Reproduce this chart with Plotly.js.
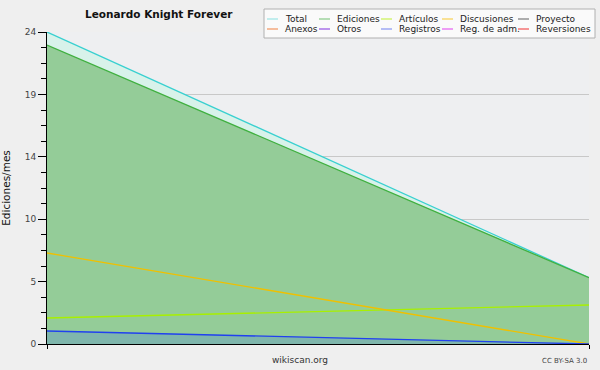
<!DOCTYPE html>
<html><head><meta charset="utf-8">
<script src="https://cdn.plot.ly/plotly-3.0.1.min.js"></script>
<style>html,body{margin:0;padding:0;background:#efefef}#c{width:600px;height:370px;outline:1px solid #b8b8b8;outline-offset:-1px}</style>
</head><body><div id="c"></div>
<script>
// Data
const months = [0, 1];
const total = [24, 5.1];
const ediciones = [23, 5.1];
const articulos = [2, 3];
const discusiones = [7, 0];
const registros = [1, 0];
const yTickVals = [0, 4.8, 9.6, 14.4, 19.2, 24];
const yTickText = ['0', '5', '10', '14', '19', '24'];
const legendNames = ['Total','Ediciones','Artículos','Discusiones','Proyecto','Anexos','Otros','Registros','Reg. de adm.','Reversiones'];
const legendColors = ['#88e0e0','#70c070','#c0f030','#f8c830','#606060','#f08040','#8030e0','#7080f0','#e040f0','#f03030'];

const F = 'DejaVu Sans, sans-serif';
const L = 47, R = 589, T = 32, B = 344;
const px = x => (x - L) / (R - L);
const py = y => (B - y) / (B - T);

const traces = [
  {x: months, y: total, mode: 'lines', fill: 'tozeroy', fillcolor: '#d8f2ea', line: {color: '#38d0d0', width: 1.3}},
  {x: months, y: ediciones, mode: 'lines', fill: 'tozeroy', fillcolor: '#94cc98', line: {color: '#40b040', width: 1.3}},
  {x: months, y: articulos, mode: 'lines', line: {color: '#a8f000', width: 1.3}},
  {x: months, y: discusiones, mode: 'lines', line: {color: '#f0c000', width: 1.3}},
  {x: months, y: registros, mode: 'lines', fill: 'tozeroy', fillcolor: 'rgba(90,140,210,0.35)', line: {color: '#2040f0', width: 1.3}}
].map(t => Object.assign(t, {showlegend: false, hoverinfo: 'skip'}));

const shapes = [
  {type: 'rect', xref: 'paper', yref: 'paper', x0: px(264), x1: px(595), y0: py(9), y1: py(38),
   fillcolor: '#fafafa', line: {color: '#b0b0b0', width: 1}, layer: 'above'}
];
const annotations = [
  {text: '<b>Leonardo Knight Forever</b>', xref: 'paper', yref: 'paper', x: px(159), y: py(14),
   xanchor: 'center', yanchor: 'middle', showarrow: false, font: {family: F, size: 10.5, color: '#111'}},
  {text: 'wikiscan.org', xref: 'paper', yref: 'paper', x: px(300), y: py(360),
   xanchor: 'center', yanchor: 'middle', showarrow: false, font: {family: F, size: 9, color: '#333'}},
  {text: 'CC BY-SA 3.0', xref: 'paper', yref: 'paper', x: px(589), y: py(361),
   xanchor: 'right', yanchor: 'middle', showarrow: false, font: {family: F, size: 7, color: '#444'}}
];
const colLine = [267, 319, 381, 442, 518];
const rowY = [19, 29];
legendNames.forEach((n, i) => {
  const c = i % 5, r = Math.floor(i / 5);
  const x0 = colLine[c], y = rowY[r];
  shapes.push({type: 'line', xref: 'paper', yref: 'paper', x0: px(x0), x1: px(x0 + 11), y0: py(y), y1: py(y),
    line: {color: legendColors[i], width: 1}, layer: 'above'});
  annotations.push({text: n, xref: 'paper', yref: 'paper', x: px(x0 + 16), y: py(y),
    xanchor: 'left', yanchor: 'middle', showarrow: false, font: {family: F, size: 9, color: '#222'}});
});

const layout = {
  width: 600, height: 370,
  margin: {l: L, r: 600 - R, t: T, b: 370 - B, pad: 0},
  paper_bgcolor: '#efefef', plot_bgcolor: '#eeeff1',
  showlegend: false,
  xaxis: {range: [0, 1], tickvals: [0, 1], ticktext: ['', ''], ticks: 'outside', ticklen: 4, tickcolor: '#000',
    showgrid: false, zeroline: false, showline: true, linecolor: '#000', linewidth: 1},
  yaxis: {range: [0, 24], tickvals: yTickVals, ticktext: yTickText, ticks: 'outside', ticklen: 8, tickcolor: '#000',
    tickfont: {family: F, size: 9, color: '#444'},
    showgrid: true, gridcolor: '#c8c8c8', gridwidth: 1, zeroline: false, showline: true, linecolor: '#000', linewidth: 1,
    minor: {dtick: 1.2, tick0: 0, ticks: 'outside', ticklen: 5, tickcolor: '#000', showgrid: false},
    title: {text: 'Ediciones/mes', font: {family: F, size: 10.5, color: '#111'}, standoff: 12}},
  shapes: shapes, annotations: annotations
};
Plotly.newPlot('c', traces, layout, {displayModeBar: false, staticPlot: true});
</script></body></html>
